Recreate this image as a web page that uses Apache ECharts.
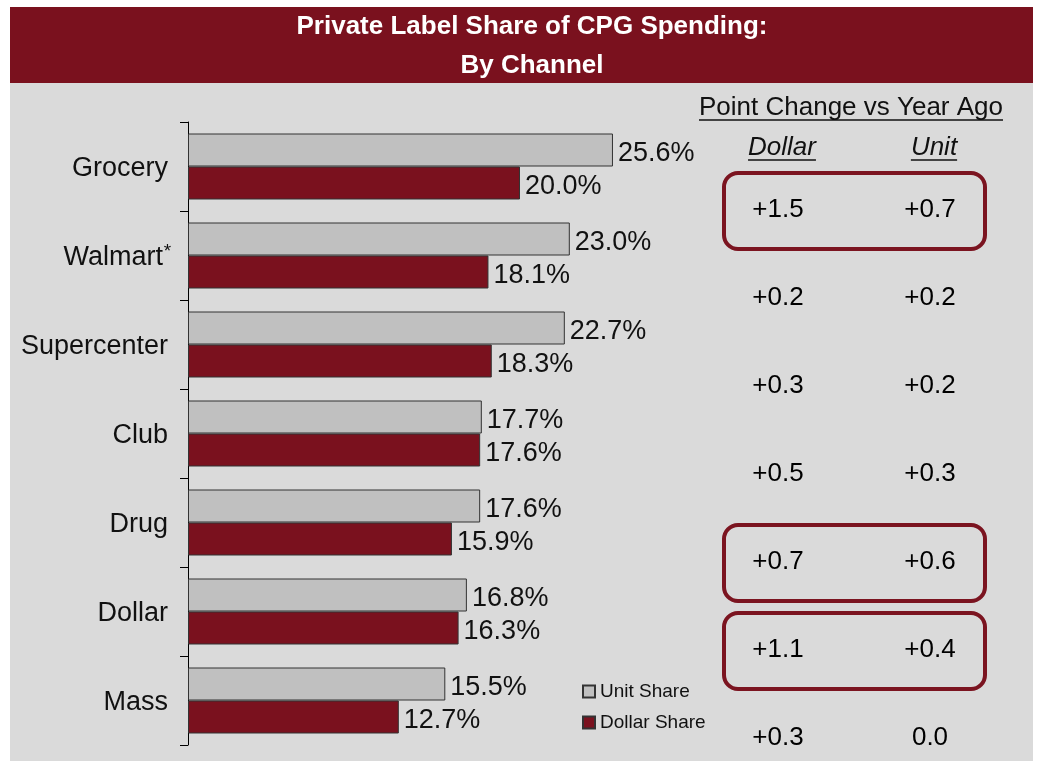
<!doctype html>
<html>
<head>
	<meta charset="UTF-8">
	<title>Private Label Share of CPG Spending</title>
	<script src="https://cdn.jsdelivr.net/npm/echarts@6/dist/echarts.min.js"></script>
	<style>
		html, body {
			margin: 0;
			padding: 0;
			background: #fff;
		}
		#chart {
			width: 1041px;
			height: 761px;
		}
	</style>
</head>
<body>
<div id="chart"></div>
<script>
	var channels = ['Grocery', 'Walmart*', 'Supercenter', 'Club', 'Drug', 'Dollar', 'Mass'];
	var unitShare = [25.6, 23.0, 22.7, 17.7, 17.6, 16.8, 15.5];
	var dollarShare = [20.0, 18.1, 18.3, 17.6, 15.9, 16.3, 12.7];
	var changeCols = ['Dollar', 'Unit'];
	var dollarChange = [1.5, 0.2, 0.3, 0.5, 0.7, 1.1, 0.3];
	var unitChange = [0.7, 0.2, 0.2, 0.3, 0.6, 0.4, 0.0];
	var boxedRows = [0, 4, 5];

	var FONT = '"Liberation Sans", Arial, sans-serif';
	var RED = '#7a111e';
	var GRAY = '#c0c0c0';

	function fmtChange(v) {
		return (v > 0 ? '+' : '') + v.toFixed(1);
	}

	function changePoints(vals, col) {
		return vals.map(function (v, i) {
			return [col, i, v];
		});
	}

	function barLabel() {
		return {
			show: true,
			position: 'right',
			distance: 5,
			offset: [0, 4],
			fontSize: 27,
			color: '#111',
			formatter: function (p) { return p.value.toFixed(1) + '%'; }
		};
	}

	function changeLabel() {
		return {
			show: true,
			position: 'inside',
			fontSize: 26,
			color: '#000',
			opacity: 1,
			textBorderWidth: 0,
			formatter: function (p) { return fmtChange(p.value[2]); }
		};
	}

	var chart = echarts.init(document.getElementById('chart'), null, {renderer: 'canvas'});

	var option = {
		backgroundColor: '#fff',
		animation: false,
		textStyle: {fontFamily: FONT},
		title: {
			text: 'Private Label Share of CPG Spending:\nBy Channel',
			left: 532,
			top: 7,
			textAlign: 'center',
			padding: 0,
			textStyle: {
				color: '#fff',
				fontSize: 26,
				fontWeight: 'bold',
				fontFamily: FONT,
				lineHeight: 39
			}
		},
		legend: {
			data: ['Unit Share', 'Dollar Share'],
			orient: 'vertical',
			left: 577,
			top: 677,
			itemWidth: 12,
			itemHeight: 12,
			itemGap: 12,
			icon: 'rect',
			textStyle: {fontSize: 19, color: '#111', fontFamily: FONT}
		},
		grid: [
			{left: 188, top: 122, bottom: 16, width: 498},
			{left: 702, top: 210, height: 528, width: 304}
		],
		xAxis: [
			{type: 'value', gridIndex: 0, min: 0, max: 30, show: false},
			{type: 'category', gridIndex: 1, data: changeCols, show: false}
		],
		yAxis: [
			{
				type: 'category',
				gridIndex: 0,
				inverse: true,
				data: channels,
				axisLine: {show: true, lineStyle: {color: '#000', width: 1}},
				axisTick: {show: true, inside: false, length: 8, lineStyle: {color: '#000', width: 1}},
				axisLabel: {
					margin: 20,
					fontSize: 27,
					color: '#111',
					padding: [4, 0, 0, 0],
					formatter: function (v) {
						if (v.slice(-1) === '*') {
							return '{a|' + v.slice(0, -1) + '}{b|*}';
						}
						return v;
					},
					rich: {
						a: {fontSize: 27, color: '#111', lineHeight: 30},
						b: {fontSize: 19, color: '#111', lineHeight: 18, width: 1, align: 'left', padding: [0, 0, 0, 4], verticalAlign: 'top'}
					}
				}
			},
			{type: 'value', gridIndex: 1, inverse: true, min: 0, max: 6, interval: 1, show: false}
		],
		series: [
			{
				name: 'Unit Share',
				type: 'bar',
				data: unitShare,
				barWidth: 33,
				barGap: '0%',
				itemStyle: {color: GRAY, borderColor: '#333', borderWidth: 1},
				label: barLabel()
			},
			{
				name: 'Dollar Share',
				type: 'bar',
				data: dollarShare,
				barWidth: 33,
				barGap: '0%',
				itemStyle: {color: RED, borderColor: '#333', borderWidth: 1},
				label: barLabel()
			},
			{
				name: 'Dollar Change',
				type: 'scatter',
				xAxisIndex: 1,
				yAxisIndex: 1,
				data: changePoints(dollarChange, 0),
				symbolSize: 0,
				itemStyle: {color: '#000'},
				label: changeLabel()
			},
			{
				name: 'Unit Change',
				type: 'scatter',
				xAxisIndex: 1,
				yAxisIndex: 1,
				data: changePoints(unitChange, 1),
				symbolSize: 0,
				itemStyle: {color: '#000'},
				label: changeLabel()
			}
		]
	};
	chart.setOption(option);

	// backdrop, headers and boxes on the right
	var ctx = document.createElement('canvas').getContext('2d');
	function textWidth(txt, font) {
		ctx.font = font;
		return ctx.measureText(txt).width;
	}

	var colX = changeCols.map(function (c, i) {
		return chart.convertToPixel({xAxisIndex: 1, yAxisIndex: 1}, [i, 0])[0];
	});

	var graphics = [
		{type: 'rect', z: -10, silent: true, shape: {x: 10, y: 83, width: 1023, height: 678}, style: {fill: '#dadada'}},
		{type: 'rect', z: -10, silent: true, shape: {x: 10, y: 7, width: 1023, height: 76}, style: {fill: RED}}
	];

	function header(txt, x, y, italic) {
		var font = (italic ? 'italic ' : '') + '26px ' + FONT;
		var w = textWidth(txt, font);
		graphics.push({
			type: 'text', silent: true, x: x, y: y,
			style: {text: txt, font: font, fill: '#111', align: 'center', verticalAlign: 'middle'}
		});
		graphics.push({
			type: 'line', silent: true,
			shape: {x1: x - w / 2, y1: y + 12, x2: x + w / 2, y2: y + 12},
			style: {stroke: '#111', lineWidth: 1.5}
		});
	}
	header('Point Change vs Year Ago', 851, 108, false);
	header('Dollar', colX[0] + 4, 148, true);
	header('Unit', colX[1] + 4, 148, true);

	boxedRows.forEach(function (r) {
		var cy = chart.convertToPixel({xAxisIndex: 1, yAxisIndex: 1}, [0, r])[1];
		graphics.push({
			type: 'rect', silent: true,
			shape: {x: colX[0] - 54, y: cy - 37, width: colX[1] - colX[0] + 109, height: 76, r: 14},
			style: {fill: 'none', stroke: '#7b1420', lineWidth: 4}
		});
	});

	chart.setOption({graphic: graphics});
</script>
</body>
</html>
